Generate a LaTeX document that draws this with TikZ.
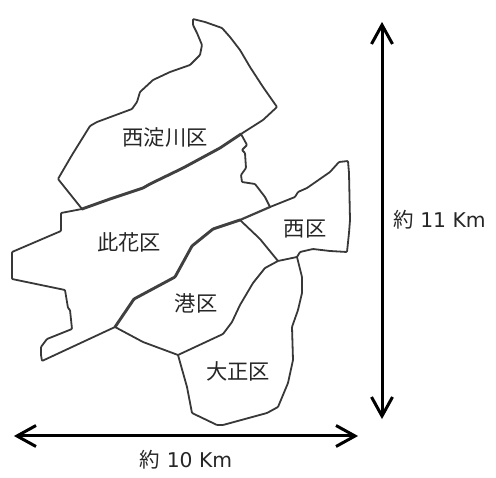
\documentclass[tikz,border=0pt]{standalone}
\usepackage{fontspec}
\setmainfont{DejaVu Sans}
\newfontfamily\jpfont{Noto Sans CJK JP}
\tikzset{
 border/.style={draw=black!78,line width=1.8pt,line join=round,line cap=round,rounded corners=0.8pt},
 medborder/.style={draw=black!75,line width=2.2pt,line join=round,line cap=round,rounded corners=0.8pt},
 thickborder/.style={draw=black!75,line width=2.9pt,line join=round,line cap=round,rounded corners=0.8pt},
 ward/.style={font=\jpfont\fontsize{21.3}{23}\selectfont,text=black!85,inner sep=0pt},
 dim/.style={font=\fontsize{20.3}{22}\selectfont,text=black!85,inner sep=0pt},
 dimarrow/.style={draw=black,line width=3pt},
 barb/.style={draw=black,line width=3pt,line join=miter}
}
\newcommand{\yak}{{\jpfont\fontsize{20.5}{20}\selectfont 約}}
\begin{document}
\begin{tikzpicture}[x=1pt,y=-1pt]
\useasboundingbox (0,0) rectangle (496,478);
% Nishiyodogawa
\draw[border] (82,209) -- (58,179) -- (72,155) -- (90,126) -- (97,122) -- (132,109) -- (137,102) -- (140,92) -- (153,80) -- (170,72) -- (190,65) -- (200,55) -- (202,45) -- (197,33) -- (193,25) -- (193,19) -- (205,22) -- (222,28) -- (230,37) -- (240,50) -- (250,67) -- (263,87) -- (277,107) -- (263,120) -- (241,134);
\draw[thickborder] (82,209) -- (110,199) -- (143,188) -- (150,184) -- (183,168) -- (220,148) -- (241,134);
% Konohana
\draw[border] (82,209) -- (61,213) -- (61,231) -- (12,252) -- (12,279) -- (65,290) -- (68,308) -- (70,310) -- (72,329) -- (47,339) -- (41,347) -- (41,355) -- (42,361) -- (115,327);
\draw[border] (241,134) -- (247,145) -- (242,150) -- (245,153) -- (246,168) -- (241,175) -- (242,182) -- (255,184) -- (265,197) -- (270,207);
\draw[thickborder] (115,327) -- (134,299) -- (175,277) -- (192,246) -- (213,229) -- (240,220);
\draw[medborder] (240,220) -- (270,207);
% Nishi
\draw[border] (270,207) -- (295,197) -- (298,192) -- (307,188) -- (330,172) -- (339,162) -- (348,161) -- (349,173) -- (350,220) -- (349,233) -- (347,252) -- (330,251) -- (313,249) -- (300,252) -- (297,257) -- (278,261) -- (260,239) -- (240,220);
% Minato
\draw[border] (278,261) -- (265,268) -- (253,283) -- (240,305) -- (232,322) -- (223,334) -- (178,355) -- (143,342) -- (115,327);
% Taisho
\draw[border] (297,257) -- (302,277) -- (302,293) -- (298,310) -- (292,327) -- (293,360) -- (288,383) -- (278,407) -- (267,413) -- (223,425) -- (217,425) -- (192,413) -- (187,387) -- (178,355);
\node[ward] (yodo) at (165,138) {西淀川区};
\node[ward] (kono) at (129,242) {此花区};
\node[ward] (nishi) at (305,229) {西区};
\node[ward] (mina) at (196,303) {港区};
\node[ward] (tai) at (238,371) {大正区};
\coordinate (vt) at (382,25);
\coordinate (vb) at (382,416);
\coordinate (hl) at (17,436);
\coordinate (hr) at (355,436);
\draw[dimarrow] (vt) -- (vb);
\draw[dimarrow] (hl) -- (hr);
\draw[barb] (vt) ++(-10.5,19) -- (vt) -- ++(10.5,19);
\draw[barb] (vb) ++(-10.5,-19) -- (vb) -- ++(10.5,-19);
\draw[barb] (hl) ++(19,-10.5) -- (hl) -- ++(19,10.5);
\draw[barb] (hr) ++(-19,-10.5) -- (hr) -- ++(-19,10.5);
\node[dim] (d11) at (439.5,220) {\yak\ 11 Km};
\node[dim] (d10) at (186,460) {\yak\ 10 Km};
\end{tikzpicture}
\end{document}
